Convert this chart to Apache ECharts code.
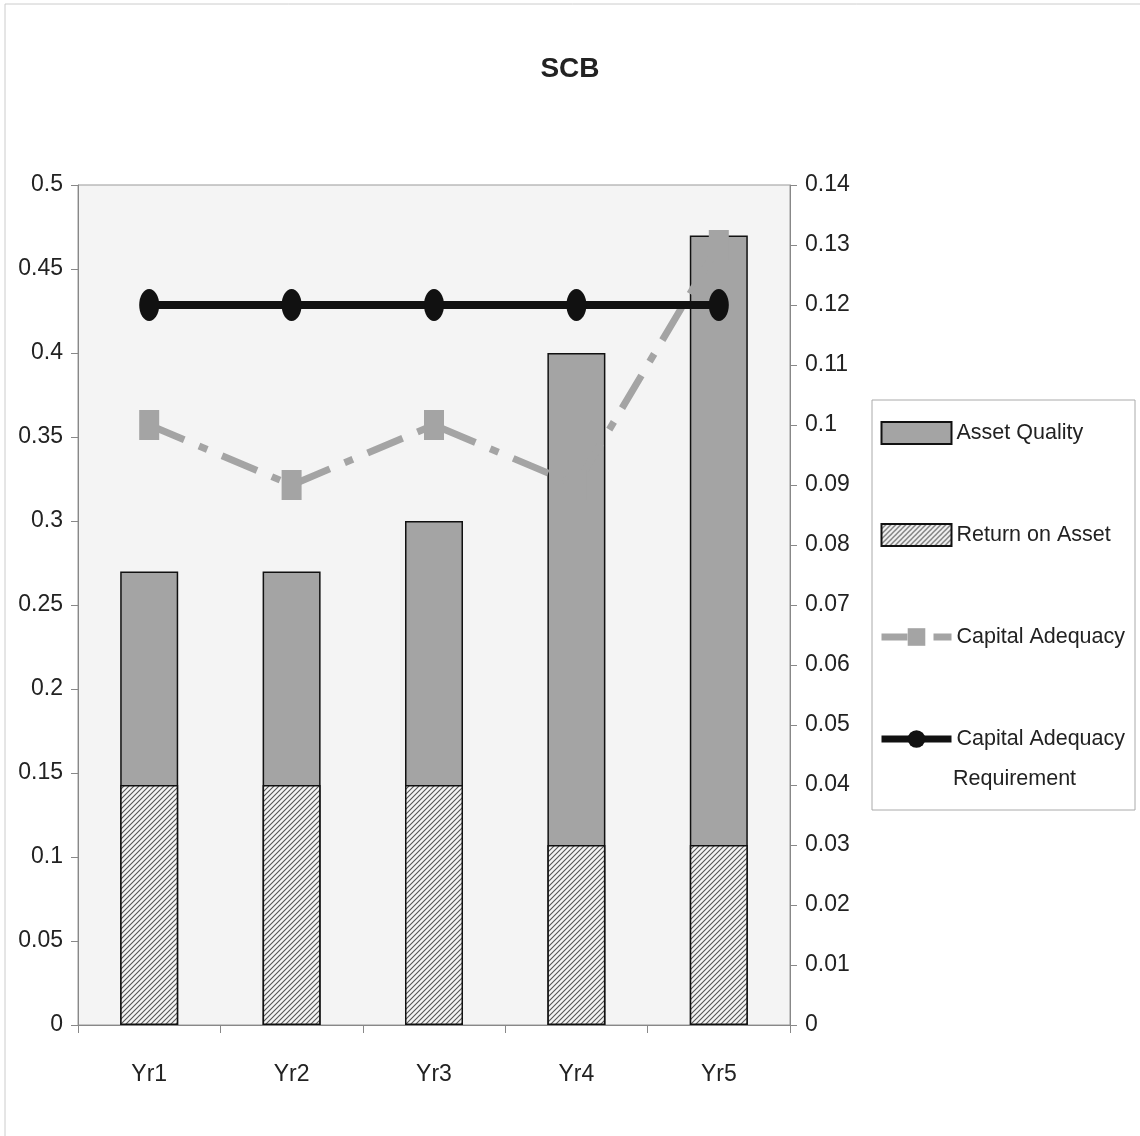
<!DOCTYPE html>
<html>
<head>
<meta charset="utf-8">
<script src="https://cdn.jsdelivr.net/npm/echarts@6/dist/echarts.min.js"></script>
<style>
html,body{margin:0;padding:0;background:#fff;}
#chart{width:1140px;height:1136px;}
</style>
</head>
<body>
<div id="chart"></div>
<script>
const categories = ['Yr1', 'Yr2', 'Yr3', 'Yr4', 'Yr5'];
const assetQuality = [0.27, 0.27, 0.30, 0.40, 0.47];
const returnOnAsset = [0.04, 0.04, 0.04, 0.03, 0.03];
const capitalAdequacy = [0.10, 0.09, 0.10, 0.09, 0.13];
const capitalAdequacyReq = [0.12, 0.12, 0.12, 0.12, 0.12];
const leftTicks = {min: 0, max: 0.5, interval: 0.05};
const rightTicks = {min: 0, max: 0.14, interval: 0.01};

const FONT = "'Liberation Sans', Arial, sans-serif";
const GREY = '#a4a4a4';

function hatch() {
  const s = 5;
  const c = document.createElement('canvas');
  c.width = s; c.height = s;
  const g = c.getContext('2d');
  g.fillStyle = '#f4f4f4';
  g.fillRect(0, 0, s, s);
  g.strokeStyle = '#555555';
  g.lineWidth = 1.1;
  g.beginPath();
  g.moveTo(-1, s + 1); g.lineTo(s + 1, -1);
  g.moveTo(-1, 1); g.lineTo(1, -1);
  g.moveTo(s - 1, s + 1); g.lineTo(s + 1, s - 1);
  g.stroke();
  return c;
}

const chart = echarts.init(document.getElementById('chart'), null, {renderer: 'canvas'});
const labelStyle = {fontFamily: FONT, fontSize: 23, color: '#222'};

chart.setOption({
  backgroundColor: '#ffffff',
  animation: false,
  title: {
    text: 'SCB', left: 'center', top: 50,
    textStyle: {fontFamily: FONT, fontSize: 28, fontWeight: 'bold', color: '#222'}
  },
  grid: {
    left: 78, right: 350, top: 185, bottom: 111,
    show: true, backgroundColor: '#f4f4f4', borderColor: '#999', borderWidth: 1
  },
  legend: {
    orient: 'vertical', left: 878, top: 418, padding: 0,
    itemWidth: 70, itemHeight: 22, itemGap: 72,
    textStyle: {fontFamily: FONT, fontSize: 21.5, color: '#222', lineHeight: 30},
    formatter: function (n) { return n === 'Capital Adequacy Requirement' ? 'Capital Adequacy' : n; },
    data: [
      {name: 'Asset Quality', icon: 'rect'},
      {name: 'Return on Asset', icon: 'rect'},
      {name: 'Capital Adequacy', lineStyle: {width: 7, type: [26, 10, 6, 10]}},
      {name: 'Capital Adequacy Requirement', lineStyle: {width: 7}}
    ]
  },
  graphic: [
    {type: 'rect', shape: {x: 872, y: 400, width: 263, height: 410}, style: {fill: 'none', stroke: '#aaa', lineWidth: 1}, z: -1},
    {type: 'text', left: 953, top: 768, style: {text: 'Requirement', font: '21.5px ' + FONT, fill: '#222'}},
    {type: 'line', shape: {x1: 5, y1: 4, x2: 5, y2: 1136}, style: {stroke: '#ccc', lineWidth: 1}},
    {type: 'line', shape: {x1: 5, y1: 4, x2: 1140, y2: 4}, style: {stroke: '#ccc', lineWidth: 1}}
  ],
  xAxis: {
    type: 'category', data: categories, boundaryGap: true,
    axisLine: {lineStyle: {color: '#888', width: 1}},
    axisTick: {show: true, length: 8, lineStyle: {color: '#888'}},
    axisLabel: Object.assign({margin: 38}, labelStyle)
  },
  yAxis: [
    {
      type: 'value', min: leftTicks.min, max: leftTicks.max, interval: leftTicks.interval,
      position: 'left',
      axisLine: {show: true, lineStyle: {color: '#888'}},
      axisTick: {show: true, length: 7, lineStyle: {color: '#888'}},
      splitLine: {show: false},
      axisLabel: Object.assign({margin: 15, formatter: v => String(+v.toFixed(2))}, labelStyle)
    },
    {
      type: 'value', min: rightTicks.min, max: rightTicks.max, interval: rightTicks.interval,
      position: 'right',
      axisLine: {show: true, lineStyle: {color: '#888'}},
      axisTick: {show: true, length: 7, lineStyle: {color: '#888'}},
      splitLine: {show: false},
      axisLabel: Object.assign({margin: 15, formatter: v => String(+v.toFixed(2))}, labelStyle)
    }
  ],
  series: [
    {
      name: 'Asset Quality', type: 'bar', yAxisIndex: 0, data: assetQuality,
      barWidth: 58, barGap: '-100%', z: 2,
      itemStyle: {color: GREY, borderColor: '#111', borderWidth: 1.5}
    },
    {
      name: 'Return on Asset', type: 'bar', yAxisIndex: 1, data: returnOnAsset,
      barWidth: 58, barGap: '-100%', z: 3,
      itemStyle: {color: {image: hatch(), repeat: 'repeat'}, borderColor: '#111', borderWidth: 1.5}
    },
    {
      name: 'Capital Adequacy', type: 'line', yAxisIndex: 1, data: capitalAdequacy, z: 4,
      symbol: 'rect', symbolSize: [20, 30],
      lineStyle: {color: GREY, width: 7, type: [38, 16, 9, 16], cap: 'butt'},
      itemStyle: {color: GREY}
    },
    {
      name: 'Capital Adequacy Requirement', type: 'line', yAxisIndex: 1, data: capitalAdequacyReq, z: 5,
      symbol: 'circle', symbolSize: [20, 32],
      lineStyle: {color: '#111', width: 8},
      itemStyle: {color: '#111'}
    }
  ]
});
</script>
</body>
</html>
